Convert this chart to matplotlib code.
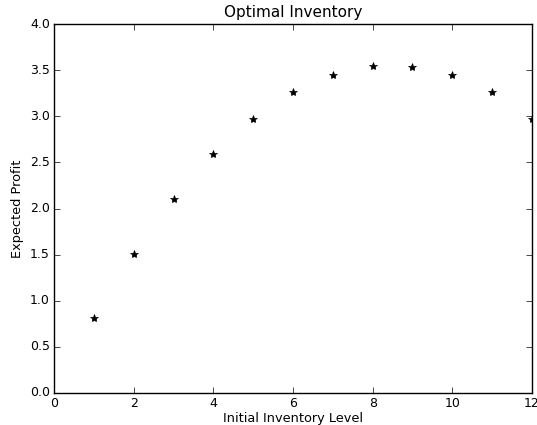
import matplotlib
matplotlib.use("Agg")
import matplotlib.pyplot as plt

plt.style.use("classic")

levels = [1, 2, 3, 4, 5, 6, 7, 8, 9, 10, 11, 12]
profit = [0.81, 1.51, 2.10, 2.59, 2.97, 3.26, 3.45, 3.55, 3.54, 3.45, 3.26, 2.97]

fig = plt.figure(figsize=(5.37, 4.25), dpi=100)
ax = fig.add_axes([0.1006, 0.0753, 0.89, 0.868])

ax.plot(levels, profit, "k*", markersize=6)

ax.set_xlim(0, 12)
ax.set_ylim(0, 4)
ax.tick_params(labelsize=9, pad=3)
ax.set_xlabel("Initial Inventory Level", fontsize=9.3, labelpad=1)
ax.set_ylabel("Expected Profit", fontsize=9.3, labelpad=4)
ax.set_title("Optimal Inventory", fontsize=11)

fig.savefig("out.png", dpi=100)
